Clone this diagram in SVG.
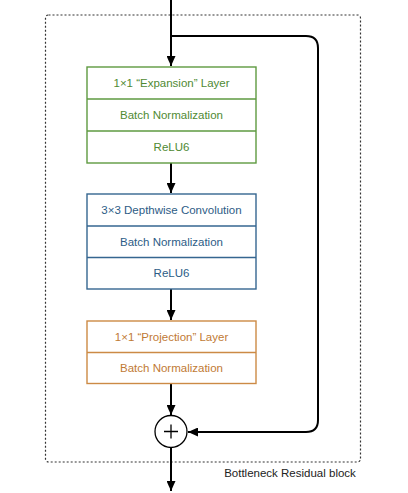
<svg xmlns="http://www.w3.org/2000/svg" width="408" height="493" viewBox="0 0 408 493">
<style>
text{font-family:"Liberation Sans",Arial,sans-serif;font-size:11.5px;text-anchor:middle}
.g rect,.g line{stroke:#5e9a40;stroke-width:1.4;fill:#fff}
.g text{fill:#4f8a33}
.b rect,.b line{stroke:#356690;stroke-width:1.4;fill:#fff}
.b text{fill:#2d5c86}
.o rect,.o line{stroke:#cc8a45;stroke-width:1.4;fill:#fff}
.o text{fill:#bf7a35}
.c{stroke:#000;stroke-width:2;fill:none}
</style>
<defs>
<marker id="ah" markerUnits="userSpaceOnUse" markerWidth="11" markerHeight="9" refX="10" refY="4.5" orient="auto">
<path d="M0,0 L10,4.5 L0,9 z" fill="#000"/>
</marker>
</defs>
<rect id="block" x="45.5" y="15" width="315" height="447" rx="3" fill="none" stroke="#333" stroke-width="1.2" stroke-dasharray="2,2"/>
<text x="290" y="477" style="fill:#222">Bottleneck Residual block</text>
<g id="connectors">
<line class="c" x1="171" y1="0" x2="171" y2="66" marker-end="url(#ah)"/>
<path class="c" d="M171,36 H306 Q318,36 318,48 V420 Q318,432 306,432 H188" marker-end="url(#ah)"/>
<line class="c" x1="171" y1="163" x2="171" y2="193" marker-end="url(#ah)"/>
<line class="c" x1="171" y1="289" x2="171" y2="320" marker-end="url(#ah)"/>
<line class="c" x1="171" y1="384" x2="171" y2="415" marker-end="url(#ah)"/>
<line class="c" x1="171" y1="448" x2="171" y2="491" marker-end="url(#ah)"/>
</g>
<g id="expansion" class="g">
<rect x="87" y="67" width="169" height="96"/>
<line x1="87" y1="99" x2="256" y2="99"/>
<line x1="87" y1="131" x2="256" y2="131"/>
<text x="171.5" y="87">1×1 “Expansion” Layer</text>
<text x="171.5" y="119">Batch Normalization</text>
<text x="171.5" y="151">ReLU6</text>
</g>
<g id="depthwise" class="b">
<rect x="87" y="194" width="169" height="95"/>
<line x1="87" y1="226" x2="256" y2="226"/>
<line x1="87" y1="257.5" x2="256" y2="257.5"/>
<text x="171.5" y="214">3×3 Depthwise Convolution</text>
<text x="171.5" y="245.5">Batch Normalization</text>
<text x="171.5" y="277">ReLU6</text>
</g>
<g id="projection" class="o">
<rect x="87" y="321" width="169" height="62.5"/>
<line x1="87" y1="352.5" x2="256" y2="352.5"/>
<text x="171.5" y="341">1×1 “Projection” Layer</text>
<text x="171.5" y="372">Batch Normalization</text>
</g>
<g id="add">
<circle cx="171" cy="431.5" r="16" fill="#fff" stroke="#000" stroke-width="1.3"/>
<path d="M164,431.5 H178 M171,424.5 V438.5" stroke="#000" stroke-width="1.3"/>
</g>
</svg>
